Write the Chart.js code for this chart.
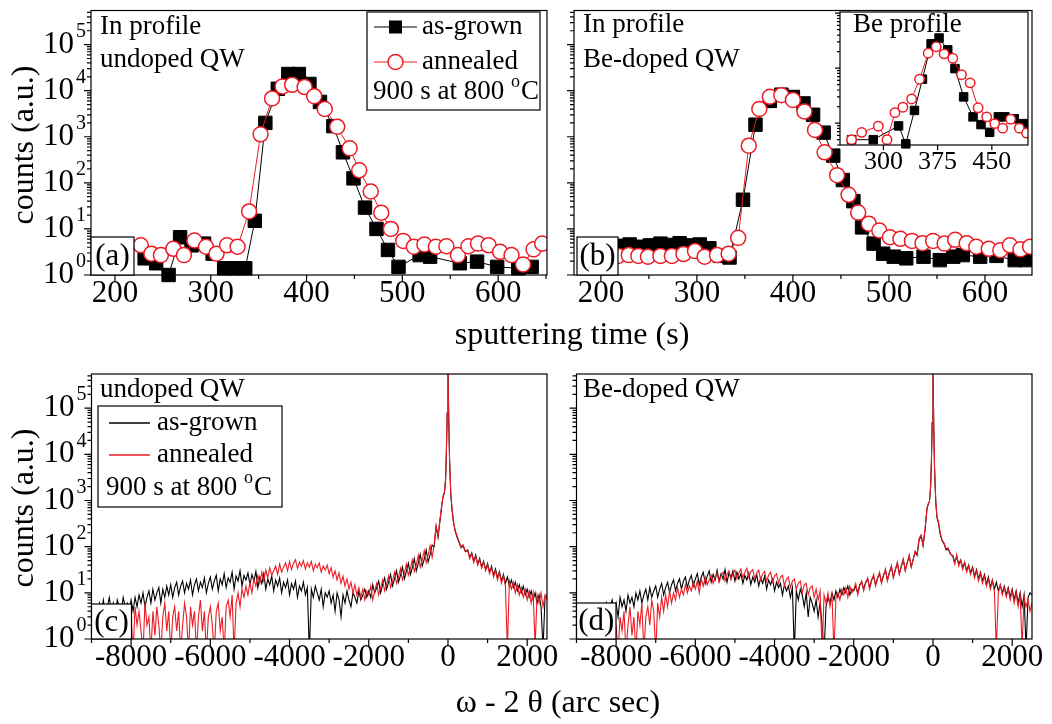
<!DOCTYPE html>
<html>
<head>
<meta charset="utf-8">
<title>In / Be depth profiles and XRD scans</title>
<script src="https://cdn.jsdelivr.net/npm/chart.js@4.4.1/dist/chart.umd.min.js"></script>
<style>
  html, body { margin: 0; background: #fff; }
  #fig { position: relative; width: 1052px; height: 724px; }
  #fig canvas { position: absolute; left: 0; top: 0; }
</style>
</head>
<body>
<div id="fig">
  <canvas id="pa" width="1052" height="724"></canvas>
  <canvas id="pb" width="1052" height="724"></canvas>
  <canvas id="pc" width="1052" height="724"></canvas>
  <canvas id="pd" width="1052" height="724"></canvas>
  <canvas id="pin" width="1052" height="724"></canvas>
</div>
<script>
const SERIF = '"Liberation Serif", "Times New Roman", serif';
const RED = '#ec1c24';

// (a) In profile, undoped QW
const timeA_grown = [231, 243, 256, 268, 280, 293, 302, 314, 325, 336,
  346, 357, 370, 381, 392, 403, 414, 428, 438, 449,
  461, 473, 485, 496, 518, 529, 560, 578, 599, 621, 635];
const countsA_grown = [2.3, 1.8, 1.0, 6.6, 4.4, 4.8, 2.9, 1.4, 1.4, 1.4,
  15, 2000, 11000, 23000, 23000, 14000, 5700, 1700, 460, 125,
  29, 10, 3.5, 1.5, 2.7, 2.5, 1.8, 1.95, 1.5, 1.4, 1.5];
const timeA_ann = [227, 238, 248, 261, 272, 283, 295, 306, 317, 328,
  340, 352, 364, 375, 385, 398, 408, 419, 432, 445,
  455, 467, 478, 488, 501, 512, 523, 535, 546, 558,
  569, 579, 590, 602, 614, 626, 637, 646];
const countsA_ann = [4.4, 2.9, 2.7, 3.7, 2.7, 5.6, 4.1, 2.9, 4.4, 4.1,
  24, 1130, 6800, 12400, 13400, 12000, 7600, 4000, 1650, 560,
  187, 65, 22.5, 10, 5.5, 4.1, 4.6, 4.1, 4.2, 2.7,
  4.2, 4.8, 4.4, 3.2, 2.7, 1.7, 3.6, 4.8];

// (b) In profile, Be-doped QW
const timeB_grown = [220, 230, 241, 251, 262, 272, 282, 293, 303, 313,
  324, 334, 348, 361, 376, 388, 400, 411, 421, 432,
  442, 452, 463, 472, 484, 494, 505, 518, 536, 553,
  567, 577, 595, 612, 631, 643];
const countsB_grown = [4.3, 4.6, 4.1, 4.4, 4.8, 4.5, 4.9, 4.4, 4.6, 3.8,
  2.6, 2.4, 43, 1830, 6000, 8200, 7300, 5300, 3000, 1230,
  390, 115, 40, 10.8, 4.8, 2.9, 2.5, 2.3, 2.5, 2.1,
  2.5, 2.7, 2.5, 2.6, 2.1, 2.1];
const timeB_ann = [208, 218, 229, 239, 249, 262, 274, 286, 298, 308,
  321, 333, 343, 354, 365, 376, 388, 400, 412, 423,
  433, 446, 458, 468, 479, 490, 501, 512, 524, 535,
  546, 558, 569, 581, 591, 604, 616, 626, 637, 647];
const countsB_ann = [2.7, 2.6, 2.7, 2.6, 2.5, 2.6, 2.6, 2.85, 3.3, 2.5,
  2.7, 2.9, 6.4, 640, 4000, 7400, 8000, 6300, 3550, 1400,
  460, 147, 55, 22.6, 13, 9.2, 6.6, 6.1, 5.5, 4.9,
  5.5, 4.8, 5.8, 4.9, 4.1, 3.7, 3.45, 4.4, 3.6, 4.1];

// inset: Be profile
const timeBe_grown = [256, 286, 321, 331, 343, 354, 366, 377, 389, 399, 411, 424, 435, 447, 459, 468, 481, 494];
const countsBe_grown = [5.0, 5.0, 8.9, 4.2, 17, 63, 277, 353, 215, 98, 30, 13, 9.4, 6.8, 13, 13, 12, 9.8];
const timeBe_ann = [256, 270, 293, 305, 316, 327, 339, 350, 362, 373, 384, 396, 408, 420, 431, 443, 454, 465, 476, 488, 498];
const countsBe_ann = [5, 6.8, 8.8, 5, 15.5, 19.5, 27.5, 63, 187, 245, 182, 151, 76, 54, 19, 13, 9.8, 8.1, 11.8, 8.1, 6.6];

// (c), (d) omega-2theta scans on a shared angle grid (arc sec)
const omega = [
  -8900, -8850, -8800, -8750, -8700, -8650, -8600, -8550, -8500, -8450, -8400, -8350, -8300, -8250, -8200, -8150, -8100, -8050,
  -8000, -7950, -7900, -7850, -7800, -7750, -7700, -7650, -7600, -7550, -7500, -7450, -7400, -7350, -7300, -7250, -7200, -7150, -7100, -7050,
  -7000, -6950, -6900, -6850, -6800, -6750, -6700, -6650, -6600, -6550, -6500, -6450, -6400, -6350, -6300, -6250, -6200, -6150, -6100, -6050,
  -6000, -5950, -5900, -5850, -5800, -5750, -5700, -5650, -5600, -5550, -5500, -5450, -5400, -5350, -5300, -5250, -5200, -5150, -5100, -5050,
  -5000, -4950, -4900, -4850, -4800, -4750, -4700, -4650, -4600, -4550, -4500, -4450, -4400, -4350, -4300, -4250, -4200, -4150, -4100, -4050,
  -4000, -3950, -3900, -3850, -3800, -3750, -3700, -3650, -3600, -3550, -3500, -3450, -3400, -3350, -3300, -3250, -3200, -3150, -3100, -3050,
  -3000, -2950, -2900, -2850, -2800, -2750, -2700, -2650, -2600, -2550, -2500, -2450, -2400, -2350, -2300, -2250, -2200, -2150, -2100, -2050,
  -2000, -1950, -1900, -1850, -1800, -1750, -1700, -1650, -1600, -1550,
  -1500, -1450, -1400, -1350, -1300, -1250, -1200, -1150, -1100, -1050,
  -1000, -950, -900, -850, -800, -750, -700, -650, -600, -550,
  -500, -450, -400,
  -350, -300, -250, -200, -150, -120, -90, -60, -40, -20, 0,
  20, 40, 70, 100, 140, 180, 230, 280, 330, 380, 440,
  500, 550, 600, 650, 700, 750, 800, 850, 900, 950,
  1000, 1050, 1100, 1150, 1200, 1250, 1300, 1350, 1400, 1450, 1500, 1550, 1600, 1650, 1700, 1750, 1800, 1850, 1900, 1950,
  2000, 2050, 2100, 2150, 2200, 2250, 2300, 2350, 2400, 2450, 2500];

const xrdC_grown = [
  5, 3, 6, 4, 7, 3, 5, 8, 4, 6, 3, 7, 5, 4, 8, 5, 6, 4,
  7, 4, 8, 5, 9, 6, 10, 5, 8, 11, 6, 12, 7, 10, 13, 6, 12, 8, 14, 9,
  15, 8, 13, 17, 9, 14, 18, 10, 16, 12, 19, 9, 15, 20, 11, 17, 13, 21, 10, 16,
  22, 12, 18, 24, 11, 20, 15, 26, 13, 21, 17, 28, 12, 23, 18, 30, 14, 24, 19, 27,
  15, 25, 18, 29, 13, 22, 16, 26, 12, 20, 15, 23, 11, 19, 14, 21, 10, 17, 13, 19,
  9, 16, 12, 18, 8, 14, 11, 17, 9, 13, 0.5, 12, 8, 14, 10, 7, 12, 5, 10, 8,
  11, 6, 9, 4, 10, 7, 3, 9, 6, 11, 7, 5, 10, 8, 6, 11, 7, 9, 12, 8,
  11, 8, 15, 10, 13, 18, 10, 15, 21, 12,
  17, 25, 14, 20, 30, 17, 24, 36, 20, 29,
  44, 25, 35, 55, 30, 44, 68, 38, 54, 85,
  47, 68, 108,
  100, 270, 160, 380, 850, 1250, 1450, 2800, 11000, 75000, 700000,
  55000, 7500, 1400, 650, 330, 220, 160, 125, 95, 105, 78,
  85, 58, 74, 48, 66, 42, 56, 36, 49, 32,
  43, 28, 38, 24, 33, 21, 29, 18, 25, 16, 22, 14, 19, 13, 17, 11, 15, 10, 14, 9,
  12, 8, 11, 7, 10, 6, 9, 5, 0.6, 8, 9];
const xrdC_ann = [
  null, null, null, null, null, null, null, null, null, null, null, null, null, null, null, null, null, null,
  3, 0.5, 5, 2, 4, 1.5, 0.5, 6, 2, 3, 0.5, 4, 1.2, 5, 2, 0.5, 3, 6, 1.5, 4,
  0.5, 3, 5, 1.5, 4, 0.5, 2, 6, 3, 0.5, 5, 2, 4, 0.5, 3, 7, 1.5, 4, 0.5, 3,
  5, 2, 0.5, 4, 6, 1.5, 3, 0.5, 5, 7, 3, 9, 0.5, 6, 10, 5, 12, 8, 14, 9,
  17, 10, 20, 14, 24, 16, 28, 18, 31, 21, 35, 24, 30, 38, 25, 42, 28, 36, 45, 30,
  48, 32, 44, 52, 34, 46, 38, 50, 33, 45, 36, 48, 30, 42, 35, 44, 28, 38, 31, 40,
  26, 35, 22, 30, 19, 27, 16, 23, 14, 20, 12, 17, 10, 15, 9, 13, 8, 12, 7, 11,
  9, 14, 7, 11, 16, 9, 13, 19, 11, 15,
  23, 13, 18, 28, 16, 22, 34, 19, 27, 42,
  24, 33, 52, 29, 41, 65, 36, 52, 82, 45,
  66, 105, 58,
  110, 290, 170, 400, 900, 1300, 1500, 3000, 12000, 80000, 700000,
  60000, 8000, 1500, 700, 350, 230, 170, 130, 100, 110, 80,
  80, 55, 70, 45, 62, 40, 52, 34, 46, 30,
  40, 26, 35, 22, 30, 19, 27, 16, 23, 14, 0.6, 18, 12, 17, 10, 15, 9, 13, 8, 12,
  7, 11, 6, 10, 0.7, 9, 6, 10, 5, 9, 7];

const xrdD_grown = [
  null, null, null, null, null, null, null, null, null, null, null, null, 4, 6, 3, 5, 7, 4,
  6, 3, 8, 5, 7, 4, 9, 6, 8, 5, 10, 7, 11, 6, 9, 12, 7, 13, 8, 11,
  14, 8, 12, 16, 9, 13, 17, 10, 15, 19, 11, 16, 20, 12, 18, 22, 13, 19, 24, 14,
  20, 26, 15, 22, 28, 16, 23, 30, 17, 25, 19, 31, 18, 26, 20, 32, 17, 27, 21, 30,
  18, 28, 20, 26, 16, 24, 19, 27, 15, 22, 17, 25, 14, 21, 16, 23, 12, 19, 15, 20,
  11, 17, 13, 16, 9, 15, 11, 14, 8, 13, 0.5, 11, 7, 12, 9, 5, 10, 3, 8, 6,
  4, 7, 3, 6, 2, 0.5, 5, 8, 6, 10, 7, 11, 8, 12, 9, 13, 10, 14, 9, 12,
  11, 14, 10, 15, 17, 12, 17, 20, 13, 19,
  23, 15, 21, 26, 17, 24, 31, 19, 28, 37,
  22, 32, 44, 26, 38, 52, 31, 45, 63, 37,
  54, 76, 65,
  140, 170, 105, 230, 680, 830, 930, 1900, 6500, 48000, 700000,
  38000, 4800, 950, 430, 320, 190, 135, 115, 85, 90, 68,
  65, 46, 60, 42, 52, 35, 46, 30, 40, 27,
  36, 23, 32, 20, 28, 18, 25, 15, 22, 13, 19, 12, 17, 11, 15, 10, 14, 9, 13, 8,
  12, 7, 11, 6, 10, 5, 9, 0.6, 8, 10, 9];
const xrdD_ann = [
  null, null, null, null, null, null, null, null, null, null, null, null, null, null, null, null, null, null,
  2, 0.5, 3, 1.5, 4, 0.5, 2, 5, 1.2, 3, 0.5, 4, 2, 6, 0.5, 3, 5, 2, 7, 4,
  0.5, 6, 3, 8, 4, 9, 5, 11, 6, 10, 7, 13, 8, 12, 9, 15, 10, 14, 11, 17,
  12, 18, 10, 20, 14, 22, 15, 19, 24, 16, 21, 27, 17, 23, 28, 18, 25, 30, 19, 26,
  31, 20, 27, 33, 21, 28, 34, 22, 29, 32, 20, 27, 31, 19, 26, 29, 18, 24, 28, 17,
  23, 26, 16, 22, 24, 14, 20, 22, 13, 18, 20, 12, 16, 18, 10, 15, 16, 9, 13, 14,
  8, 12, 7, 11, 0.5, 9, 6, 10, 5, 9, 0.5, 8, 10, 7, 12, 9, 13, 8, 14, 10,
  12, 16, 9, 14, 18, 11, 16, 21, 12, 18,
  25, 14, 20, 28, 16, 23, 33, 18, 27, 39,
  21, 31, 46, 25, 37, 55, 30, 44, 66, 36,
  52, 80, 70,
  150, 180, 110, 240, 700, 850, 950, 2000, 7000, 50000, 700000,
  40000, 5000, 1000, 450, 340, 200, 140, 120, 90, 95, 70,
  60, 42, 68, 38, 50, 32, 44, 28, 38, 25,
  34, 21, 30, 18, 26, 16, 23, 14, 20, 12, 18, 11, 0.6, 10, 15, 9, 13, 8, 12, 7,
  11, 6, 10, 5, 9, 0.7, 8, 5, 7, 4, 6];

// axis ticks
const timeTicks = [200, 300, 400, 500, 600];
const timeMinor = [250, 350, 450, 550, 650];
const omegaTicks = [-8000, -6000, -4000, -2000, 0, 2000];
const omegaMinor = [-9000, -7000, -5000, -3000, -1000, 1000];
const insetTicks = [300, 375, 450];
const decades = [0, 1, 2, 3, 4, 5];

function pairs(xs, ys) {
  return xs.map((x, i) => ({ x, y: ys[i] }));
}

function text(ctx, s, x, y, size, align) {
  ctx.font = size + 'px ' + SERIF;
  ctx.textAlign = align || 'left';
  ctx.textBaseline = 'middle';
  ctx.fillText(s, x, y);
}

// "900 s at 800 °C" with a raised o
function annealNote(ctx, x, y) {
  const main = '900 s at 800 ';
  text(ctx, main, x, y, 27);
  const w = ctx.measureText(main).width;
  text(ctx, 'o', x + w, y - 10, 18);
  const wo = ctx.measureText('o').width;
  text(ctx, 'C', x + w + wo + 1, y, 27);
}

function tag(ctx, s, x0, y0, x1, y1) {
  ctx.fillStyle = '#fff';
  ctx.fillRect(x0, y0, x1 - x0, y1 - y0);
  ctx.strokeRect(x0, y0, x1 - x0, y1 - y0);
  ctx.fillStyle = '#000';
  text(ctx, s, (x0 + x1) / 2, (y0 + y1) / 2 + 1, 31, 'center');
}

function legendBox(ctx, x0, y0, x1, y1) {
  ctx.fillStyle = '#fff';
  ctx.fillRect(x0, y0, x1 - x0, y1 - y0);
  ctx.strokeRect(x0, y0, x1 - x0, y1 - y0);
  ctx.fillStyle = '#000';
}

function seg(ctx, x0, x1, y, color, width) {
  ctx.save();
  ctx.strokeStyle = color;
  ctx.lineWidth = width;
  ctx.beginPath();
  ctx.moveTo(x0, y);
  ctx.lineTo(x1, y);
  ctx.stroke();
  ctx.restore();
}

function countsTitle(ctx, y) {
  ctx.save();
  ctx.translate(25, y);
  ctx.rotate(-Math.PI / 2);
  text(ctx, 'counts (a.u.)', 0, 0, 32, 'center');
  ctx.restore();
}

function decorA(ctx) {
  text(ctx, 'In profile', 100, 27, 27);
  text(ctx, 'undoped QW', 100, 60, 27);
  legendBox(ctx, 367, 12, 540, 110);
  seg(ctx, 374, 417, 27, '#000', 1);
  ctx.fillRect(389, 20.5, 13, 13);
  seg(ctx, 374, 417, 62, RED, 1);
  ctx.save();
  ctx.beginPath();
  ctx.arc(395.5, 62, 7.5, 0, Math.PI * 2);
  ctx.fillStyle = '#fff';
  ctx.fill();
  ctx.strokeStyle = RED;
  ctx.lineWidth = 1.5;
  ctx.stroke();
  ctx.restore();
  text(ctx, 'as-grown', 422, 27, 27);
  text(ctx, 'annealed', 422, 62, 27);
  annealNote(ctx, 373, 92);
  tag(ctx, '(a)', 91, 237, 134, 275);
  countsTitle(ctx, 145);
  text(ctx, 'sputtering time (s)', 572, 336, 32, 'center');
}

function decorB(ctx) {
  text(ctx, 'In profile', 583, 25, 27);
  text(ctx, 'Be-doped QW', 583, 60, 27);
  tag(ctx, '(b)', 577, 237, 618, 275);
}

function decorC(ctx) {
  text(ctx, 'undoped QW', 100, 390, 27);
  legendBox(ctx, 98, 406, 282, 507);
  seg(ctx, 109, 150, 423, '#000', 1.5);
  seg(ctx, 109, 150, 455, RED, 1.5);
  text(ctx, 'as-grown', 157, 423, 27);
  text(ctx, 'annealed', 157, 455, 27);
  annealNote(ctx, 106, 488);
  tag(ctx, '(c)', 91.5, 604, 131.5, 639);
  countsTitle(ctx, 508);
  text(ctx, '\u03c9 - 2 \u03b8 (arc sec)', 558, 704, 32, 'center');
}

function decorD(ctx) {
  text(ctx, 'Be-doped QW', 583, 390, 27);
  tag(ctx, '(d)', 576.5, 603, 616, 639);
}

function decorInset(ctx) {
  text(ctx, 'Be profile', 853, 25, 27);
}

const panelSetup = {
  pa: { xMajor: timeTicks, xMinor: timeMinor, yLabels: true, draw: decorA },
  pb: { xMajor: timeTicks, xMinor: timeMinor, yLabels: false, draw: decorB },
  pc: { xMajor: omegaTicks, xMinor: omegaMinor, yLabels: true, draw: decorC },
  pd: { xMajor: omegaTicks, xMinor: omegaMinor, yLabels: false, draw: decorD },
  pin: { xMajor: insetTicks, xMinor: [], yLabels: false, small: true, fill: true, draw: decorInset }
};

// frame, outward ticks, tick labels and panel texts
const axesBox = {
  id: 'axesBox',
  beforeDatasetsDraw(chart) {
    const s = panelSetup[chart.canvas.id];
    if (!s.fill) return;
    const a = chart.chartArea;
    chart.ctx.save();
    chart.ctx.fillStyle = '#fff';
    chart.ctx.fillRect(a.left, a.top, a.right - a.left, a.bottom - a.top);
    chart.ctx.restore();
  },
  afterDatasetsDraw(chart) {
    const s = panelSetup[chart.canvas.id];
    const ctx = chart.ctx, a = chart.chartArea;
    const sx = chart.scales.x, sy = chart.scales.y;
    const major = s.small ? 5 : 7, minor = s.small ? 3 : 4;
    const inX = v => v >= sx.min && v <= sx.max;
    ctx.save();
    ctx.strokeStyle = '#000';
    ctx.fillStyle = '#000';
    ctx.lineWidth = 1.2;
    ctx.beginPath();
    s.xMajor.filter(inX).forEach(v => {
      const p = sx.getPixelForValue(v);
      ctx.moveTo(p, a.bottom); ctx.lineTo(p, a.bottom + major);
    });
    s.xMinor.filter(inX).forEach(v => {
      const p = sx.getPixelForValue(v);
      ctx.moveTo(p, a.bottom); ctx.lineTo(p, a.bottom + minor);
    });
    const lo = Math.floor(Math.log10(sy.min)), hi = Math.ceil(Math.log10(sy.max));
    for (let e = lo; e <= hi; e++) {
      for (let k = 1; k <= 9; k++) {
        const v = k * Math.pow(10, e);
        if (v < sy.min || v > sy.max) continue;
        const p = sy.getPixelForValue(v);
        ctx.moveTo(a.left, p); ctx.lineTo(a.left - (k === 1 ? major : minor), p);
      }
    }
    ctx.stroke();
    ctx.strokeRect(a.left, a.top, a.right - a.left, a.bottom - a.top);

    const fs = s.small ? 26 : 31;
    s.xMajor.filter(inX).forEach(v => {
      text(ctx, String(v), sx.getPixelForValue(v), a.bottom + (s.small ? 17 : 19), fs, 'center');
    });
    if (s.yLabels) {
      decades.forEach(e => {
        const p = sy.getPixelForValue(Math.pow(10, e));
        text(ctx, '10', a.left - 17, p, 31, 'right');
        text(ctx, String(e), a.left - 15, p - 13, 20, 'left');
      });
    }
    s.draw(ctx, chart);
    ctx.restore();
  }
};
Chart.register(axesBox);

function makeChart(id, box, xr, yr, datasets) {
  return new Chart(document.getElementById(id), {
    type: 'line',
    data: { datasets },
    options: {
      responsive: false,
      animation: false,
      events: [],
      layout: { padding: { left: box[0], top: box[1], right: 1052 - box[2], bottom: 724 - box[3] } },
      scales: {
        x: { type: 'linear', display: false, min: xr[0], max: xr[1] },
        y: { type: 'logarithmic', display: false, min: yr[0], max: yr[1] }
      },
      plugins: { legend: { display: false }, tooltip: { enabled: false } }
    }
  });
}

const markerClip = { left: 0, top: 0, right: 0, bottom: 12 };

function squares(xs, ys, r) {
  return {
    data: pairs(xs, ys), borderColor: '#000', borderWidth: 1, tension: 0,
    pointStyle: 'rect', pointRadius: r, pointBackgroundColor: '#000',
    pointBorderColor: '#000', pointBorderWidth: 1, order: 2, clip: markerClip
  };
}
function circles(xs, ys, r) {
  return {
    data: pairs(xs, ys), borderColor: RED, borderWidth: 1, tension: 0,
    pointStyle: 'circle', pointRadius: r, pointBackgroundColor: '#fff',
    pointBorderColor: RED, pointBorderWidth: 1.5, order: 1, clip: markerClip
  };
}
function trace(ys, color, order) {
  return {
    data: pairs(omega, ys), borderColor: color, borderWidth: 1.1,
    pointRadius: 0, tension: 0, spanGaps: false, order
  };
}

const countsRange = [1, 5.5e5];

makeChart('pa', [91, 5, 547, 275], [175, 651], countsRange, [
  squares(timeA_grown, countsA_grown, 9.5),
  circles(timeA_ann, countsA_ann, 7.5)
]);
makeChart('pb', [574, 5, 1032, 275], [172, 649], countsRange, [
  squares(timeB_grown, countsB_grown, 9.5),
  circles(timeB_ann, countsB_ann, 7.5)
]);
makeChart('pc', [91.5, 374, 547, 639], [-9000, 2500], countsRange, [
  trace(xrdC_grown, '#000', 2),
  trace(xrdC_ann, RED, 1)
]);
makeChart('pd', [576.5, 374, 1032, 639], [-9000, 2500], countsRange, [
  trace(xrdD_grown, '#000', 2),
  trace(xrdD_ann, RED, 1)
]);
makeChart('pin', [840, 12, 1028, 145], [240, 500], [4, 1050], [
  squares(timeBe_grown, countsBe_grown, 6),
  circles(timeBe_ann, countsBe_ann, 4.7)
]);
</script>
</body>
</html>
